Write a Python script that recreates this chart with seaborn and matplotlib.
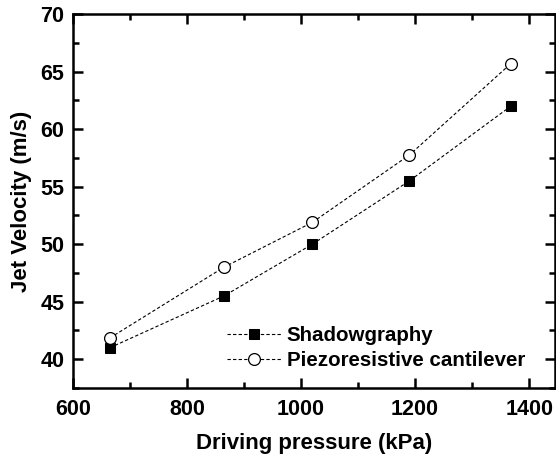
import matplotlib
matplotlib.use("Agg")
import matplotlib.pyplot as plt
import seaborn as sns
import pandas as pd
from matplotlib.ticker import MultipleLocator

pressure = [665, 865, 1020, 1190, 1368]
shadowgraphy = [41.0, 45.5, 50.0, 55.5, 62.0]
cantilever = [41.85, 48.0, 51.9, 57.75, 65.7]

sns.set_style("ticks")
plt.rcParams['font.family'] = ['Liberation Sans', 'DejaVu Sans']
plt.rcParams['font.weight'] = 'bold'
plt.rcParams['text.color'] = 'black'
plt.rcParams['axes.labelcolor'] = 'black'
plt.rcParams['xtick.color'] = 'black'
plt.rcParams['ytick.color'] = 'black'
plt.rcParams['axes.edgecolor'] = 'black'

fig = plt.figure(figsize=(5.56, 4.54), dpi=100)
ax = fig.add_axes([0.131, 0.1454, 0.867, 0.8237])

df1 = pd.DataFrame({"p": pressure, "v": shadowgraphy})
df2 = pd.DataFrame({"p": pressure, "v": cantilever})

sns.lineplot(data=df1, x="p", y="v", ax=ax, color="black", lw=0.8,
             linestyle=(0, (3, 2)), marker="s", markersize=7,
             markerfacecolor="black", markeredgecolor="black",
             label="Shadowgraphy")
sns.lineplot(data=df2, x="p", y="v", ax=ax, color="black", lw=0.8,
             linestyle=(0, (3, 2)), marker="o", markersize=8.5,
             markerfacecolor="white", markeredgecolor="black", markeredgewidth=0.9,
             label="Piezoresistive cantilever")

ax.set_xlim(600, 1445)
ax.set_ylim(37.5, 70)
ax.xaxis.set_major_locator(MultipleLocator(200))
ax.xaxis.set_minor_locator(MultipleLocator(100))
ax.yaxis.set_major_locator(MultipleLocator(5))
ax.yaxis.set_minor_locator(MultipleLocator(2.5))

for s in ax.spines.values():
    s.set_linewidth(1.8)
    s.set_color("black")
    s.set_visible(True)
ax.tick_params(which="both", direction="in", top=True, right=True, width=1.8,
               labelsize=15.5, colors="black")
ax.tick_params(which="major", length=7)
ax.tick_params(which="minor", length=4)
ax.tick_params(axis="x", pad=8)
ax.tick_params(axis="y", pad=6)
for lab in ax.get_xticklabels() + ax.get_yticklabels():
    lab.set_fontweight("bold")

ax.set_xlabel("Driving pressure (kPa)", fontsize=16, fontweight="bold", labelpad=9, color="black")
ax.set_ylabel("Jet Velocity (m/s)", fontsize=16, fontweight="bold", labelpad=6, color="black")

leg = ax.legend(loc="lower right", bbox_to_anchor=(0.968, 0.009), frameon=False,
                prop={"size": 14.8, "weight": "bold"}, handlelength=2.6,
                handletextpad=0.3, labelspacing=0.3, borderaxespad=0.3)
for t in leg.get_texts():
    t.set_color("black")

fig.savefig("out.png", dpi=100)
